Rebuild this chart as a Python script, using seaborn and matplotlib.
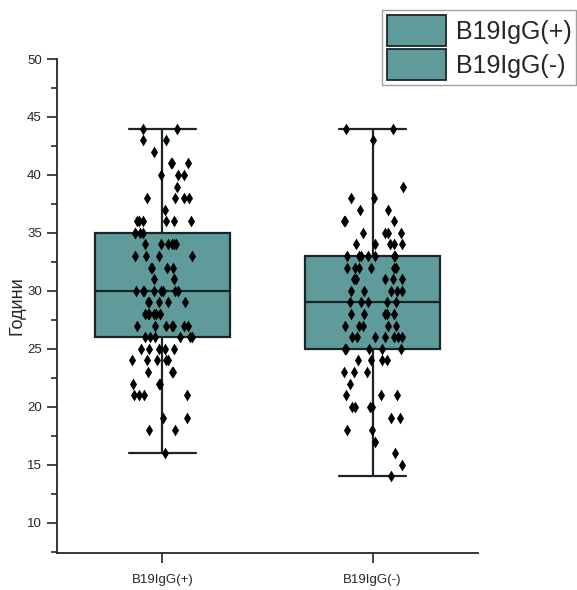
import numpy as np
import pandas as pd
import matplotlib
matplotlib.use("Agg")
import matplotlib.pyplot as plt
from matplotlib.patches import Patch
from matplotlib.ticker import MultipleLocator
import seaborn as sns

# ages, with how many points sit on each age
groups = ["B19IgG(+)", "B19IgG(-)"]
pos_ages = [16, 18, 19, 21, 22, 23, 24, 25, 26, 27, 28, 29, 30, 31, 32, 33, 34, 35, 36, 37, 38, 39, 40, 41, 42, 43, 44]
pos_counts = [1, 2, 2, 4, 3, 3, 5, 5, 6, 7, 7, 5, 8, 3, 4, 4, 6, 4, 6, 1, 4, 1, 3, 3, 1, 2, 2]
neg_ages = [14, 15, 16, 17, 18, 19, 20, 21, 22, 23, 24, 25, 26, 27, 28, 29, 30, 31, 32, 33, 34, 35, 36, 37, 38, 39, 43, 44]
neg_counts = [1, 1, 1, 1, 2, 2, 4, 3, 1, 3, 4, 6, 7, 5, 5, 5, 5, 5, 6, 7, 5, 4, 3, 2, 2, 1, 1, 2]

df = pd.concat([
    pd.DataFrame({"group": groups[0], "age": np.repeat(pos_ages, pos_counts)}),
    pd.DataFrame({"group": groups[1], "age": np.repeat(neg_ages, neg_counts)}),
])

teal = "#5f9b9b"
edge = "#1a2626"

sns.set_style("ticks")
plt.rcParams["font.family"] = ["Liberation Sans", "DejaVu Sans"]

fig = plt.figure(figsize=(5.77, 5.90), dpi=100)
ax = fig.add_axes([0.099, 0.063, 0.729, 0.837])

sns.boxplot(data=df, x="group", y="age", order=groups, color=teal, width=0.64,
            linecolor=edge, linewidth=1.6, fliersize=0, saturation=1, ax=ax)
np.random.seed(3)
sns.stripplot(data=df, x="group", y="age", order=groups, color="black", marker="d",
              size=6, jitter=0.15, ax=ax, zorder=3)

ax.set_xlim(-0.5, 1.5)
ax.set_ylim(7.4, 50)
ax.yaxis.set_major_locator(MultipleLocator(5))
ax.yaxis.set_minor_locator(MultipleLocator(2.5))
ax.set_yticks(np.arange(10, 51, 5))
ax.tick_params(axis="both", labelsize=9.5, direction="out", length=7, width=1.2, pad=4)
ax.tick_params(axis="x", pad=8)
ax.tick_params(axis="y", which="minor", length=4, width=1.2)
ax.set_xlabel("")
ax.set_ylabel("Години", fontsize=13, labelpad=1)
for s in ["top", "right"]:
    ax.spines[s].set_visible(False)
for s in ["left", "bottom"]:
    ax.spines[s].set_linewidth(1.3)

handles = [Patch(facecolor=teal, edgecolor=edge, linewidth=1.3, label=g) for g in groups]
leg = fig.legend(handles=handles, loc="upper left", bbox_to_anchor=(0.662, 0.983),
                 bbox_transform=fig.transFigure, fontsize=18, frameon=True, fancybox=False,
                 handlelength=2.35, handleheight=1.55, handletextpad=0.4,
                 borderpad=0.2, labelspacing=0.1, borderaxespad=0)
leg.get_frame().set_edgecolor("#888888")
leg.get_frame().set_linewidth(1.0)

fig.savefig("out.png", dpi=100)
